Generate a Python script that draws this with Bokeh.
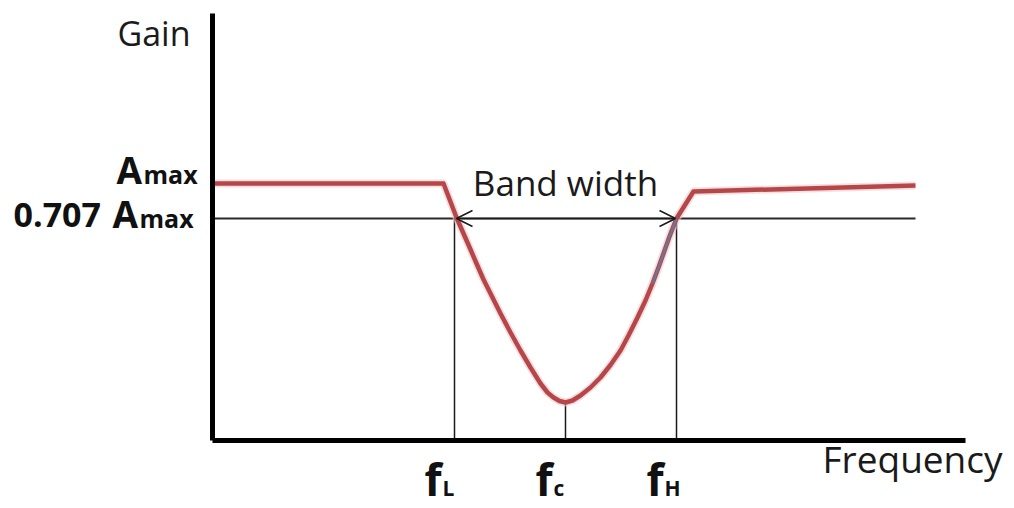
from bokeh.plotting import figure
from bokeh.models import Range1d, Arrow, OpenHead
from bokeh.core.properties import value
from bokeh.embed import file_html
from bokeh.resources import INLINE

# ---- data (schematic units) ----
freq = [0.00, 2.31, 2.44, 2.51, 2.58, 2.64, 2.71, 2.78, 2.88, 2.98, 3.08, 3.18, 3.28,
        3.35, 3.41, 3.47, 3.53, 3.60, 3.68, 3.78, 3.88, 3.98, 4.08, 4.16, 4.25, 4.33,
        4.40, 4.46, 4.51, 4.57, 4.64, 4.81, 7.03]
gain = [2.57, 2.57, 2.23, 2.07, 1.91, 1.77, 1.61, 1.47, 1.27, 1.08, 0.90, 0.73, 0.57,
        0.48, 0.43, 0.395, 0.38, 0.40, 0.45, 0.53, 0.63, 0.755, 0.90, 1.05, 1.23, 1.40,
        1.57, 1.73, 1.87, 2.04, 2.22, 2.49, 2.55]
blue_freq = [4.40, 4.46, 4.51, 4.57, 4.64]
blue_gain = [1.57, 1.73, 1.87, 2.04, 2.22]

A_MAX = 2.57
A_707 = 2.22
F_L, F_C, F_H = 2.42, 3.53, 4.64
GAIN_MIN = 0.38
AXIS_X_END = 7.53
AXIS_Y_END = 4.27
LINE_707_END = 7.03

y_title = "Gain"
x_title = "Frequency"
bw_label = "Band width"
f_labels = [("f", "L"), ("f", "c"), ("f", "H")]

FONT = value("Open Sans")


def bl(y, size):
    """baseline correction for the renderer (size in px)"""
    return y + 0.0038 * size


p = figure(width=1014, height=508, x_range=Range1d(-2.12, 8.02), y_range=Range1d(-0.68, 4.40),
           output_backend="svg", toolbar_location=None, x_axis_type=None, y_axis_type=None,
           min_border=0, min_border_left=0, min_border_right=0, min_border_top=0, min_border_bottom=0,
           outline_line_color=None)
p.grid.visible = False

# 0.707 line
p.segment(x0=[0], y0=[A_707], x1=[LINE_707_END], y1=[A_707], line_color="#2a2a2a", line_width=2)
# vertical guide lines
p.segment(x0=[F_L, F_C, F_H], y0=[A_707, GAIN_MIN, A_707], x1=[F_L, F_C, F_H], y1=[0, 0, 0],
          line_color="#1a1a1a", line_width=1.5)

# response curve
p.line(freq, gain, line_color="#f0c8c8", line_width=8, line_join="round", line_alpha=0.6)
p.line(freq, gain, line_color="#b5474b", line_width=4.5, line_join="round")
p.line(blue_freq, blue_gain, line_color="#5f7ea3", line_width=2.5, line_alpha=0.8)

# axes
p.segment(x0=[0, 0], y0=[0, 0], x1=[0, AXIS_X_END], y1=[AXIS_Y_END, 0], line_color="black", line_width=5)

# bandwidth arrow
p.add_layout(Arrow(x_start=F_L + 0.02, y_start=A_707, x_end=F_H - 0.01, y_end=A_707,
                   line_color="#1a1a1a", line_width=1.5,
                   start=OpenHead(size=16, line_width=1.5, line_color="#1a1a1a"),
                   end=OpenHead(size=16, line_width=1.5, line_color="#1a1a1a")))

# texts
p.text(x=[(F_L + F_H) / 2], y=[bl(A_707 + 0.23, 35)], text=[bw_label], text_font=FONT, text_font_size="35px",
       text_align="center", text_baseline="alphabetic", text_color="#1a1a1a")
p.text(x=[-0.95], y=[bl(3.95, 34)], text=[y_title], text_font=FONT, text_font_size="34px",
       text_align="left", text_baseline="alphabetic", text_color="#1a1a1a")
p.text(x=[6.10], y=[bl(-0.32, 37)], text=[x_title], text_font=FONT, text_font_size="37px",
       text_align="left", text_baseline="alphabetic", text_color="#1a1a1a")

# Amax labels
y2 = A_707 - 0.09
p.text(x=[-0.96, -1.00], y=[bl(A_MAX, 37), bl(y2, 37)], text=["A", "A"], text_font=FONT,
       text_font_style="bold", text_font_size="37px", text_baseline="alphabetic", text_color="#111111")
p.text(x=[-0.69, -0.73], y=[bl(A_MAX, 25), bl(y2, 25)], text=["max", "max"], text_font=FONT,
       text_font_style="bold", text_font_size="25px", text_baseline="alphabetic", text_color="#111111")
p.text(x=[-1.99], y=[bl(y2, 34)], text=["0.707"], text_font=FONT,
       text_font_style="bold", text_font_size="34px", text_baseline="alphabetic", text_color="#111111")

# f labels
fx = [F_L, F_C, F_H]
yf = -0.55
p.text(x=[v - 0.30 for v in fx], y=[bl(yf, 44)] * 3, text=[a for a, b in f_labels], text_font=FONT,
       text_font_style="bold", text_font_size="44px", text_baseline="alphabetic", text_color="#111111")
p.text(x=[v - 0.12 for v in fx], y=[bl(yf, 21)] * 3, text=[b for a, b in f_labels], text_font=FONT,
       text_font_style="bold", text_font_size="21px", text_baseline="alphabetic", text_color="#111111")

open("out.html", "w").write(file_html(p, INLINE))
